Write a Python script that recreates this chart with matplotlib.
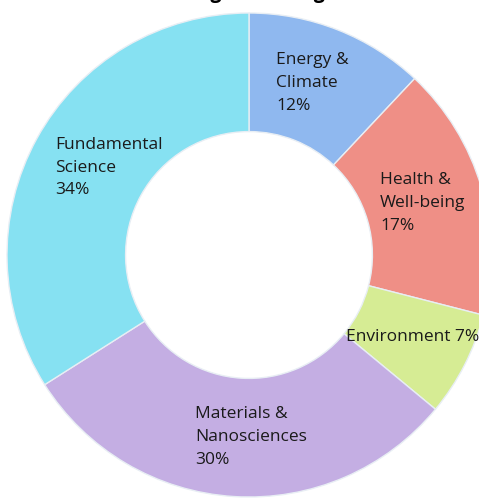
import matplotlib.pyplot as plt
import numpy as np

labels = ["Energy &\nClimate", "Health &\nWell-being", "Environment",
          "Materials &\nNanosciences", "Fundamental\nScience"]
shares = [12, 17, 7, 30, 34]
colors = ["#8fb8ef", "#ef8f86", "#d6ec94", "#c4aee3", "#86e1f2"]

# label anchor points (left edge, vertical centre) in data units, radius = 1
label_x = [0.112, 0.541, 0.401, -0.223, -0.802]
label_y = [0.711, 0.215, -0.339, -0.752, 0.360]

fig = plt.figure(figsize=(4.79, 4.99), dpi=100)
ax = fig.add_axes([0, 0, 1, 1])

wedges, _ = ax.pie(shares, colors=colors, startangle=90, counterclock=False,
                   radius=1.0, center=(0, 0),
                   wedgeprops=dict(width=0.49, edgecolor="#e8eef4", linewidth=1.0))

for lab, s, x, y in zip(labels, shares, label_x, label_y):
    if "\n" in lab:
        txt = lab + "\n" + str(s) + "%"
    else:
        txt = lab + " " + str(s) + "%"
    ax.text(x, y, txt, ha="left", va="center", fontsize=12.5, family="Open Sans",
            color="#1a1a1a", linespacing=1.55)

# title is cropped in the original, only descenders peek in
fig.text(0.5, 1.004, "Funding Percentage", ha="center", va="baseline",
         fontsize=14, fontweight="bold", family="Open Sans")

ax.set_xlim(-249 / 242, 230 / 242)
ax.set_ylim(-244 / 242, 255 / 242)
ax.set_aspect("equal")
ax.axis("off")

plt.savefig("out.png", dpi=100)
